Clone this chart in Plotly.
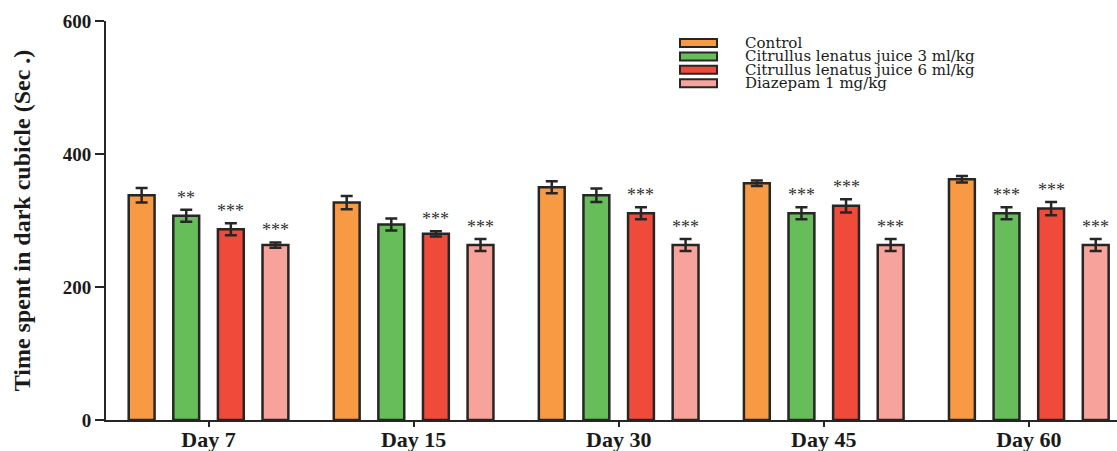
import plotly.graph_objects as go

# ---------------- data ----------------
days = ["Day 7", "Day 15", "Day 30", "Day 45", "Day 60"]
series_names = ["Control",
                "Citrullus lenatus juice 3 ml/kg",
                "Citrullus lenatus juice 6 ml/kg",
                "Diazepam 1 mg/kg"]
control = [338, 327, 350, 356, 362]
control_err = [11, 10, 9, 4, 5]
cl3 = [307, 294, 338, 311, 311]
cl3_err = [9, 9, 10, 9, 9]
cl6 = [287, 280, 311, 322, 318]
cl6_err = [9, 4, 9, 10, 10]
diaz = [263, 263, 263, 263, 263]
diaz_err = [4, 9, 9, 9, 9]
stars_control = ["", "", "", "", ""]
stars_cl3 = ["**", "", "", "***", "***"]
stars_cl6 = ["***", "***", "***", "***", "***"]
stars_diaz = ["***", "***", "***", "***", "***"]
y_ticks = [0, 200, 400, 600]

# ---------------- style ----------------
colors = ["#F79A43", "#66BD5A", "#F04A3A", "#F7A39B"]
edge = "#262626"
serif = "Liberation Serif"
bargap = 0.13
bargroupgap = 0.42

values = [control, cl3, cl6, diaz]
errors = [control_err, cl3_err, cl6_err, diaz_err]
stars = [stars_control, stars_cl3, stars_cl6, stars_diaz]

fig = go.Figure()
for name, v, e, c in zip(series_names, values, errors, colors):
    fig.add_trace(go.Bar(
        x=days, y=v, name=name,
        marker=dict(color=c, line=dict(color=edge, width=2.5)),
        error_y=dict(type="data", array=e, visible=True, color=edge,
                     thickness=2.5, width=6),
        showlegend=False,
    ))

# significance stars
slot = (1 - bargap) / 4
annotations = []
for j, (v, e, s) in enumerate(zip(values, errors, stars)):
    for i in range(len(days)):
        if s[i]:
            annotations.append(dict(
                x=i + (j - 1.5) * slot, y=v[i] + e[i], xref="x", yref="y",
                text=s[i], showarrow=False, yanchor="bottom", yshift=0,
                font=dict(family=serif, size=18, color="#333333"),
            ))

# manual legend (compact rows as in the reference)
plot_left, plot_w = 106, 1011
plot_bottom, plot_h = 420, 399
row0_px, row_gap_px = 43, 13.4
box_x0_px, box_x1_px, box_h_px, text_x_px = 680, 717, 8, 743
shapes = []
for k, (name, c) in enumerate(zip(series_names, colors)):
    py = row0_px + k * row_gap_px
    yc = (plot_bottom - py) / plot_h
    hh = box_h_px / 2 / plot_h
    shapes.append(dict(type="rect", xref="paper", yref="paper",
                       x0=(box_x0_px - plot_left) / plot_w,
                       x1=(box_x1_px - plot_left) / plot_w,
                       y0=yc - hh, y1=yc + hh,
                       fillcolor=c, line=dict(color=edge, width=2)))
    annotations.append(dict(x=(text_x_px - plot_left) / plot_w, y=yc,
                            xref="paper", yref="paper", text=name,
                            showarrow=False, xanchor="left", yanchor="middle",
                            font=dict(family="DejaVu Serif", size=15,
                                      color="#1a1a1a")))

fig.update_layout(
    width=1117, height=451,
    margin=dict(l=106, r=0, t=21, b=31, autoexpand=False),
    paper_bgcolor="white", plot_bgcolor="white",
    barmode="group", bargap=bargap, bargroupgap=bargroupgap,
    annotations=annotations, shapes=shapes,
    font=dict(family=serif, color="#1a1a1a"),
)
fig.update_xaxes(
    range=[-0.5, 4.43], showline=True, linecolor=edge, linewidth=2,
    ticks="outside", ticklen=5, tickwidth=2, tickcolor=edge,
    ticklabelstandoff=-6,
    tickfont=dict(family=serif, size=22, weight="bold", color="#1a1a1a"),
    showgrid=False, zeroline=False, automargin=False,
)
fig.update_yaxes(
    range=[0, 600], tickvals=y_ticks, showline=True, linecolor=edge, linewidth=2,
    ticks="outside", ticklen=9, tickwidth=2, tickcolor=edge,
    tickfont=dict(family=serif, size=19, weight="bold", color="#1a1a1a"),
    showgrid=False, zeroline=False, automargin=False,
    title=dict(text="Time spent in dark cubicle (Sec .)", standoff=25,
               font=dict(family=serif, size=24, weight="bold", color="#1a1a1a")),
)

fig.write_html("out.html",
               config={"displayModeBar": False},
               post_script="document.body.style.margin='0';"
                           "document.body.style.overflow='hidden';")
